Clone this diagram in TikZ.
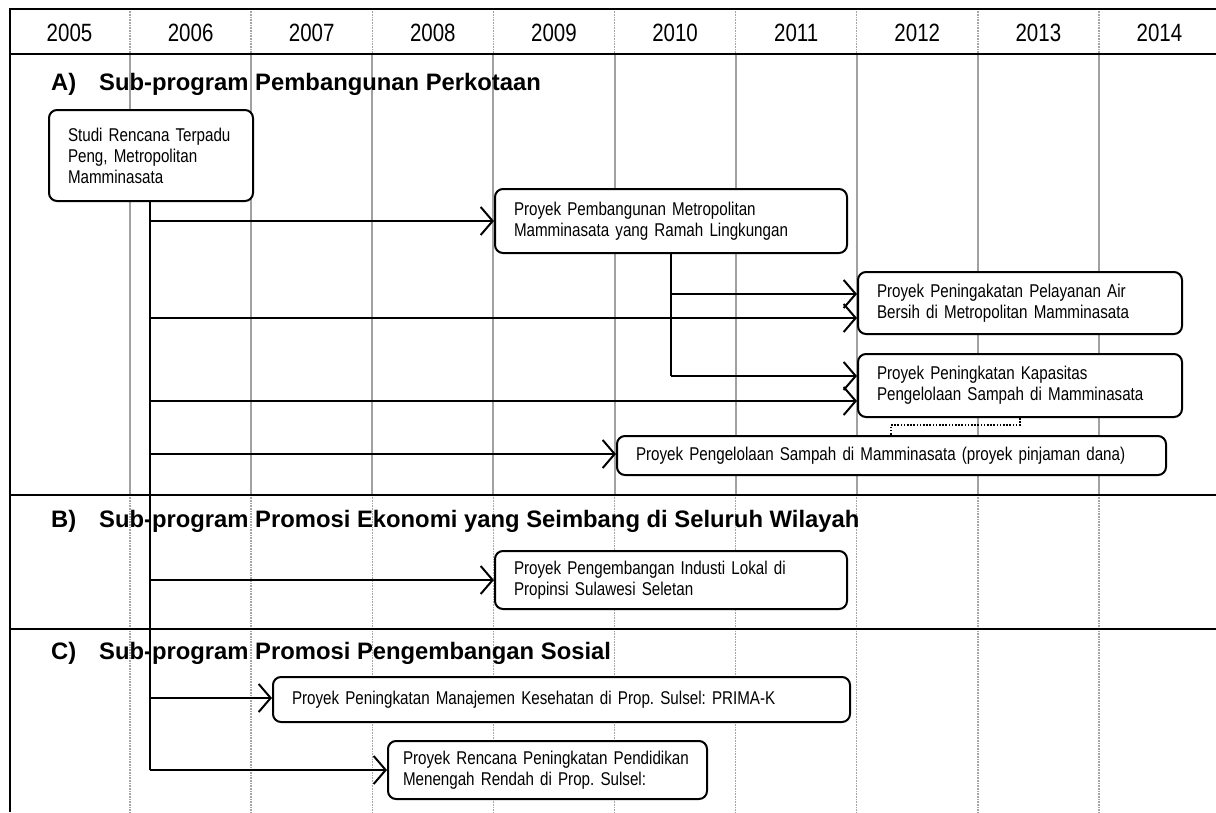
\documentclass[tikz,border=0pt]{standalone}
\usepackage{fontspec}
\setmainfont{Liberation Sans}
\newfontfamily\narrowfont{Liberation Sans}[FakeStretch=0.82,WordSpace=0.6]
\usetikzlibrary{arrows.meta}
\frenchspacing
\hyphenpenalty=10000

\begin{document}
\begin{tikzpicture}
  [x=1pt,y=-1pt,
   box/.style={draw,line width=2pt,rounded corners=8pt,fill=white,anchor=north west,
     inner xsep=19pt,inner ysep=0pt,align=left,font=\narrowfont\fontsize{18.5}{21}\selectfont},
   edge/.style={line width=2pt,-{Straight Barb[length=12pt,width=28pt]}},
   link/.style={line width=2pt},
   dotlink/.style={line width=2pt,dash pattern=on 1.6pt off 1.6pt},
   rule/.style={line width=2pt},
   gridline/.style={line width=2pt,color=black!37},
   griddot/.style={line width=1.5pt,color=black!35,dash pattern=on 0.8pt off 0.8pt},
   head/.style={anchor=west,inner sep=0pt,font=\bfseries\fontsize{23.8}{28}\selectfont},
   year/.style={font=\narrowfont\fontsize{25}{28}\selectfont}]
  \useasboundingbox (0,0) rectangle (1216,812);

  \foreach \i in {1,...,9}
    {\draw[griddot] (9+121.1*\i,9) -- (9+121.1*\i,54);
     \draw[gridline] (9+121.1*\i,54) -- (9+121.1*\i,495);
     \draw[griddot] (9+121.1*\i,495) -- (9+121.1*\i,812);}
  \foreach \y [count=\i] in {2005,2006,2007,2008,2009,2010,2011,2012,2013,2014}
    \node[year] (y\i) at (9+121.1*\i-60.55,33) {\y};

  \draw[rule] (1220,9) -- (10,9) -- (10,812);
  \draw[rule] (10,54) -- (1220,54);
  \draw[rule] (10,495) -- (1220,495);
  \draw[rule] (10,629) -- (1220,629);

  \node[head] (ha) at (51,84) {\makebox[48pt][l]{A)}Sub-program Pembangunan Perkotaan};
  \node[head] (hb) at (51,521) {\makebox[48pt][l]{B)}Sub-program Promosi Ekonomi yang Seimbang di Seluruh Wilayah};
  \node[head] (hc) at (51,653) {\makebox[48pt][l]{C)}Sub-program Promosi Pengembangan Sosial};

  \coordinate (a1) at (150,221);
  \coordinate (a2) at (150,318);
  \coordinate (a3) at (150,401);
  \coordinate (a4) at (150,454);
  \coordinate (a5) at (150,580);
  \coordinate (a6) at (150,698);
  \coordinate (a7) at (150,770);
  \coordinate (b1) at (671,294);
  \coordinate (b2) at (671,376);

  \node[box,text width=166pt,minimum height=91pt] (n0) at (48,109)
    {Studi Rencana Terpadu\\Peng, Metropolitan\\Mamminasata};
  \node[box,text width=314pt,minimum height=64pt] (n1) at (494,188)
    {Proyek Pembangunan Metropolitan\\Mamminasata yang Ramah Lingkungan};
  \node[box,text width=286pt,minimum height=62pt] (n2) at (857,271)
    {Proyek Peningakatan Pelayanan Air\\Bersih di Metropolitan Mamminasata};
  \node[box,text width=286pt,minimum height=63pt] (n3) at (857,353)
    {Proyek Peningkatan Kapasitas\\Pengelolaan Sampah di Mamminasata};
  \node[box,text width=511pt,minimum height=39pt] (n4) at (616,435)
    {Proyek Pengelolaan Sampah di Mamminasata (proyek pinjaman dana)};
  \node[box,text width=314pt,minimum height=58pt] (n5) at (494,550)
    {Proyek Pengembangan Industi Lokal di\\Propinsi Sulawesi Seletan};
  \node[box,text width=539pt,minimum height=45pt] (n6) at (272,676)
    {Proyek Peningkatan Manajemen Kesehatan di Prop. Sulsel: PRIMA-K};
  \node[box,text width=289pt,inner xsep=15pt,minimum height=58pt] (n7) at (387,740)
    {Proyek Rencana Peningkatan Pendidikan\\Menengah Rendah di Prop. Sulsel:};

  \draw[link] (n0.south -| a1) -- (a7);
  \foreach \k/\n in {a1/n1,a2/n2,a3/n3,a4/n4,a5/n5,a6/n6,a7/n7}
    \draw[edge] (\k) -- (\k -| \n.west);
  \draw[link] (n1.south -| b2) -- (b2);
  \draw[edge] (b1) -- (b1 -| n2.west);
  \draw[edge] (b2) -- (b2 -| n3.west);
  \draw[dotlink] (n3.south -| 1020,0) -- ++(0,7) -| (n4.north -| 891,0);
\end{tikzpicture}
\end{document}
